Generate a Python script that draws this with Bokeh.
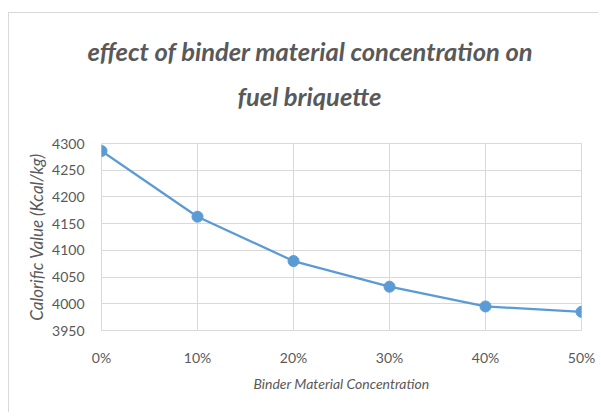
from bokeh.plotting import figure
from bokeh.models import FixedTicker, Title, ColumnDataSource
from bokeh.embed import file_html
from bokeh.resources import INLINE

# Data
concentration = [0, 10, 20, 30, 40, 50]
x_tick_labels = ["0%", "10%", "20%", "30%", "40%", "50%"]
calorific_value = [4286, 4163, 4080, 4032, 3995, 3985]
y_ticks = [3950, 4000, 4050, 4100, 4150, 4200, 4250, 4300]

title_line1 = "effect of binder material concentration on"
title_line2 = "fuel briquette"
x_label = "Binder Material Concentration"
y_label = "Calorific Value (Kcal/kg)"

FONT = "Lato"
TXT = "#595959"
GRID = "#d9d9d9"
BLUE = "#5B9BD5"

source = ColumnDataSource(dict(x=concentration, y=calorific_value))

p = figure(
    width=590, height=400,
    x_range=(concentration[0], concentration[-1]),
    y_range=(y_ticks[0], y_ticks[-1]),
    output_backend="svg", toolbar_location=None,
    min_border_left=92, min_border_right=18,
    min_border_top=130, min_border_bottom=83,
    title=title_line1,
    styles={"border-top": "1px solid #d9d9d9", "border-left": "1px solid #d9d9d9",
            "margin-top": "12px", "margin-left": "8px"},
)
p.title.align = "left"
p.title.text_font = FONT
p.title.text_font_style = "bold italic"
p.title.text_font_size = "25.5px"
p.title.text_color = TXT
p.title.standoff = -40
p.title.offset = -14

t2 = Title(text=title_line2, align="left", text_font=FONT,
           text_font_style="bold italic", text_font_size="25.5px",
           text_color=TXT, standoff=66, offset=136)
p.add_layout(t2, "above")

p.outline_line_color = GRID
p.background_fill_color = "white"
p.border_fill_color = "white"

p.xaxis.ticker = FixedTicker(ticks=concentration)
p.xaxis.major_label_overrides = {c: l for c, l in zip(concentration, x_tick_labels)}
p.yaxis.ticker = FixedTicker(ticks=y_ticks)

for ax in (p.xaxis, p.yaxis):
    ax.axis_line_color = None
    ax.major_tick_line_color = None
    ax.minor_tick_line_color = None
    ax.major_label_text_font = FONT
    ax.major_label_text_font_size = "14px"
    ax.major_label_text_color = TXT
    ax.axis_label_text_font = FONT
    ax.axis_label_text_font_style = "italic"
    ax.axis_label_text_color = TXT

p.xaxis.axis_label = x_label
p.yaxis.axis_label = y_label
p.xaxis.axis_label_text_font_size = "14px"
p.yaxis.axis_label_text_font_size = "17px"
p.xaxis.major_label_standoff = 12
p.xaxis.axis_label_standoff = 6
p.yaxis.major_label_standoff = 11
p.yaxis.axis_label_standoff = 2

p.xgrid.ticker = FixedTicker(ticks=concentration)
p.ygrid.ticker = FixedTicker(ticks=y_ticks)
p.grid.grid_line_color = GRID
p.grid.grid_line_width = 1

p.line("x", "y", source=source, line_color=BLUE, line_width=2.25)
p.scatter("x", "y", source=source, size=11, fill_color=BLUE, line_color=BLUE)

open("out.html", "w").write(file_html(p, INLINE))
